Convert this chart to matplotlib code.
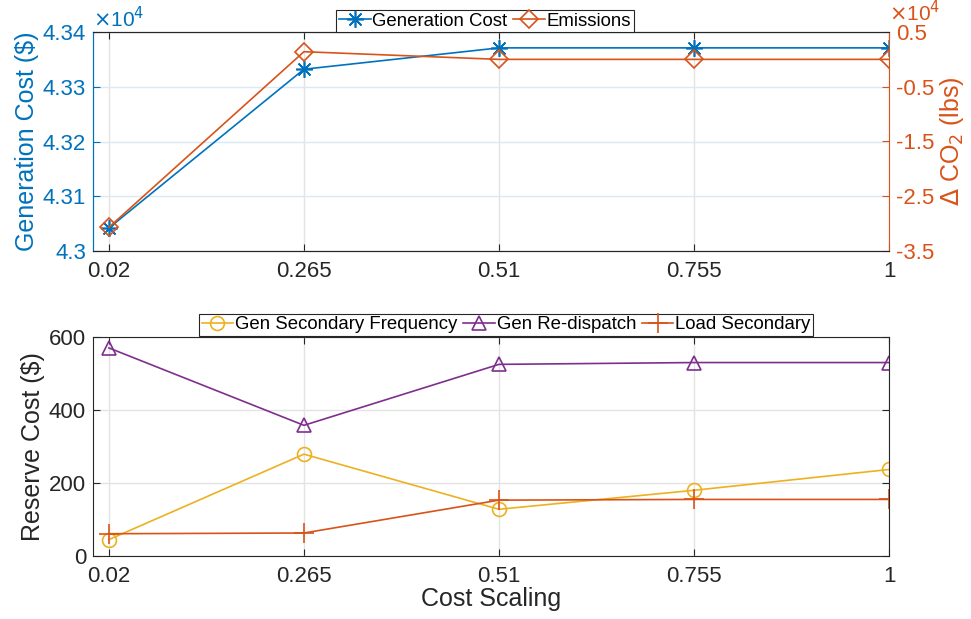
import matplotlib
matplotlib.use("Agg")
import matplotlib.pyplot as plt
from matplotlib.ticker import FuncFormatter, FixedLocator

plt.rcParams['font.family'] = ['Liberation Sans', 'DejaVu Sans']

# Cost scaling factors (x axis)
cost_scaling = [0.02, 0.265, 0.51, 0.755, 1.0]
x_ticklabels = ['0.02', '0.265', '0.51', '0.755', '1']

# Top panel: generation cost ($) and change in CO2 emissions (lbs)
generation_cost = [43042, 43332, 43371, 43371, 43371]
delta_co2 = [-30670, 1400, 0, 0, 0]

# Bottom panel: reserve costs ($)
gen_secondary_freq = [45, 279, 128, 180, 237]
gen_redispatch = [570, 358, 525, 530, 530]
load_secondary = [61, 63, 153, 155, 155]

BLUE = '#0072BD'
ORANGE = '#D95319'
YELLOW = '#EDB120'
PURPLE = '#7E2F8E'
DARK = '#262626'
GRID = '#e3e3e3'
GRID_BLUE = '#d9e9f5'

TICK_FS = 16
LABEL_FS = 18
LEG_FS = 13.4

fig = plt.figure(figsize=(9.71, 6.19), dpi=100)
W, H = 971, 619


def axes_rect(x0, y0, x1, y1):
    return [x0 / W, 1 - y1 / H, (x1 - x0) / W, (y1 - y0) / H]


sci = FuncFormatter(lambda v, p: f"{v / 1e4:g}")
asterisk = (8, 2, 0)

# ---------------- top panel ----------------
ax1 = fig.add_axes(axes_rect(93, 32, 889, 251))
ax2 = ax1.twinx()

l1, = ax1.plot(cost_scaling, generation_cost, color=BLUE, lw=1.2,
               marker=asterisk, ms=12, mew=1.2, label='Generation Cost')
l2, = ax2.plot(cost_scaling, delta_co2, color=ORANGE, lw=1.2,
               marker='D', ms=9, mfc='none', mew=1.2, label='Emissions')

ax1.set_xlim(0.0, 1.0)
ax1.set_ylim(43000, 43400)
ax2.set_ylim(-35000, 5000)
ax1.xaxis.set_major_locator(FixedLocator(cost_scaling))
ax1.set_xticklabels(x_ticklabels)
ax1.yaxis.set_major_locator(FixedLocator([43000, 43100, 43200, 43300, 43400]))
ax2.yaxis.set_major_locator(FixedLocator([-35000, -25000, -15000, -5000, 5000]))
ax1.yaxis.set_major_formatter(sci)
ax2.yaxis.set_major_formatter(sci)

ax1.grid(True, axis='x', color=GRID, lw=1.0)
ax1.grid(True, axis='y', color=GRID_BLUE, lw=1.0)
ax1.set_axisbelow(True)

ax1.tick_params(axis='x', direction='in', length=5, width=0.8, colors=DARK,
                labelsize=TICK_FS, top=True, pad=7)
ax1.tick_params(axis='y', direction='in', length=5, width=0.8, colors=BLUE,
                labelsize=TICK_FS, right=False, pad=5)
ax2.tick_params(axis='y', direction='in', length=5, width=0.8, colors=ORANGE,
                labelsize=TICK_FS, pad=5)

for ax in (ax1, ax2):
    ax.spines['top'].set_color(DARK)
    ax.spines['bottom'].set_color(DARK)
    for s in ax.spines.values():
        s.set_linewidth(0.8)
ax1.spines['left'].set_color(BLUE)
ax2.spines['left'].set_color(BLUE)
ax2.spines['right'].set_color(ORANGE)
ax1.spines['right'].set_visible(False)

ax1.set_ylabel('Generation Cost (\\$)', color=BLUE, fontsize=LABEL_FS, labelpad=3)
ax2.set_ylabel('$\\Delta$ CO$_2$ (lbs)', color=ORANGE, fontsize=LABEL_FS,
               rotation=90, labelpad=3)

ax1.text(0.0, 1.005, '$\\times$10$^4$', transform=ax1.transAxes, color=BLUE,
         fontsize=15, ha='left', va='bottom')
ax2.text(1.0, 1.03, '$\\times$10$^4$', transform=ax2.transAxes, color=ORANGE,
         fontsize=15, ha='left', va='bottom')

leg1 = ax2.legend([l1, l2], ['Generation Cost', 'Emissions'], loc='center',
                  bbox_to_anchor=(0.4925, 1.05), ncol=2, fontsize=LEG_FS,
                  frameon=True, fancybox=False, framealpha=1, edgecolor=DARK,
                  handlelength=1.7, handletextpad=0.1, columnspacing=0.3,
                  borderpad=0.15, borderaxespad=0)
leg1.get_frame().set_linewidth(0.8)

# ---------------- bottom panel ----------------
ax3 = fig.add_axes(axes_rect(93, 337, 889, 556))
p1, = ax3.plot(cost_scaling, gen_secondary_freq, color=YELLOW, lw=1.2,
               marker='o', ms=10, mfc='none', mew=1.2,
               label='Gen Secondary Frequency')
p2, = ax3.plot(cost_scaling, gen_redispatch, color=PURPLE, lw=1.2,
               marker='^', ms=10, mfc='none', mew=1.2, label='Gen Re-dispatch')
p3, = ax3.plot(cost_scaling, load_secondary, color=ORANGE, lw=1.2,
               marker='+', ms=14, mew=1.2, label='Load Secondary')

ax3.set_xlim(0.0, 1.0)
ax3.set_ylim(0, 600)
ax3.xaxis.set_major_locator(FixedLocator(cost_scaling))
ax3.set_xticklabels(x_ticklabels)
ax3.yaxis.set_major_locator(FixedLocator([0, 200, 400, 600]))
ax3.grid(True, color=GRID, lw=1.0)
ax3.set_axisbelow(True)
ax3.tick_params(direction='in', length=5, width=0.8, colors=DARK,
                labelsize=TICK_FS, top=True, right=True)
ax3.tick_params(axis='x', pad=7)
ax3.tick_params(axis='y', pad=5)
for s in ax3.spines.values():
    s.set_color(DARK)
    s.set_linewidth(0.8)
ax3.set_ylabel('Reserve Cost (\\$)', color=DARK, fontsize=LABEL_FS, labelpad=3)
ax3.set_xlabel('Cost Scaling', color=DARK, fontsize=LABEL_FS, labelpad=0)

leg2 = ax3.legend(loc='center', bbox_to_anchor=(0.519, 1.055), ncol=3,
                  fontsize=LEG_FS, frameon=True, fancybox=False, framealpha=1,
                  edgecolor=DARK, handlelength=1.7, handletextpad=0.1,
                  columnspacing=0.3, borderpad=0.15, borderaxespad=0)
leg2.get_frame().set_linewidth(0.8)

fig.savefig('out.png', dpi=100)
